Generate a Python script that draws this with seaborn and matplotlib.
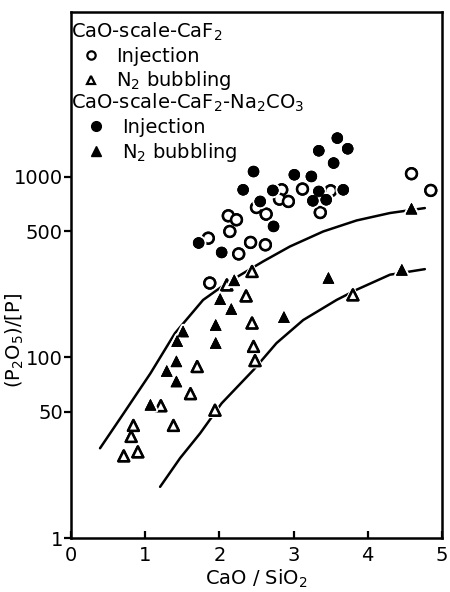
import matplotlib
matplotlib.use("Agg")
import matplotlib.pyplot as plt
import matplotlib.patheffects as pe
from matplotlib.lines import Line2D
import seaborn as sns

# ---- data ----
inj_caf2_x = [1.85, 2.14, 2.12, 2.23, 2.50, 2.63, 2.84, 2.81, 2.93, 3.12, 2.42, 2.62, 2.26, 3.36, 3.50, 4.59, 4.85, 1.87]
inj_caf2_y = [457, 498, 608, 578, 676, 621, 847, 752, 730, 855, 433, 420, 374, 634, 836, 1040, 840, 258]

bub_caf2_x = [2.44, 2.10, 2.36, 2.44, 2.46, 2.48, 1.70, 1.61, 1.21, 1.94, 1.38, 0.84, 0.81, 0.90, 0.71, 3.80]
bub_caf2_y = [299, 252, 219, 155, 115, 96, 89, 63, 54, 51, 42, 42, 36.5, 30, 28.5, 222]

inj_na_x = [3.59, 3.34, 3.73, 3.54, 3.24, 3.34, 3.67, 3.26, 3.44, 3.01, 2.46, 2.32, 2.72, 2.55, 2.73, 1.72, 2.03]
inj_na_y = [1637, 1393, 1429, 1191, 1004, 829, 847, 736, 746, 1026, 1069, 847, 840, 730, 531, 430, 381]

bub_na_x = [2.20, 2.01, 2.16, 1.95, 1.95, 1.51, 1.43, 1.42, 1.29, 1.42, 1.07, 2.87, 3.47, 4.46, 4.59]
bub_na_y = [267, 210, 185, 151, 120, 139, 123, 95, 84, 73.5, 54.6, 167, 275, 305, 665]

upper_curve_x = [0.39, 0.71, 1.07, 1.40, 1.78, 2.10, 2.59, 2.95, 3.40, 3.85, 4.30, 4.77]
upper_curve_y = [31.4, 49.1, 81.6, 136, 208, 258, 340, 411, 498, 573, 630, 671]

lower_curve_x = [1.20, 1.47, 1.74, 2.03, 2.46, 2.77, 3.13, 3.58, 3.85, 4.30, 4.77]
lower_curve_y = [19.2, 27.7, 38.0, 55.7, 85.3, 120, 161, 208, 237, 287, 308]

y_ticks = [10, 50, 100, 500, 1000]
y_tick_labels = ["1", "50", "100", "500", "1000"]
x_ticks = [0, 1, 2, 3, 4, 5]

heading1 = "CaO-scale-CaF$_2$"
heading2 = "CaO-scale-CaF$_2$-Na$_2$CO$_3$"
lab_inj = "Injection"
lab_bub = "N$_2$ bubbling"

# ---- figure ----
sns.set_style("ticks")
plt.rcParams["font.family"] = ["DejaVu Sans"]
plt.rcParams["mathtext.fontset"] = "dejavusans"
plt.rcParams["text.color"] = "black"
plt.rcParams["axes.labelcolor"] = "black"
plt.rcParams["xtick.color"] = "black"
plt.rcParams["ytick.color"] = "black"

fig = plt.figure(figsize=(4.5, 5.92), dpi=100)
ax = fig.add_axes([0.158, 0.0912, 0.824, 0.889])

lw = 1.8
sns.lineplot(x=upper_curve_x, y=upper_curve_y, ax=ax, color="black", lw=lw, sort=False, zorder=1)
sns.lineplot(x=lower_curve_x, y=lower_curve_y, ax=ax, color="black", lw=lw, sort=False, zorder=1)

halo = [pe.withStroke(linewidth=3.5, foreground="white")]
ms = 60
sns.scatterplot(x=inj_caf2_x, y=inj_caf2_y, ax=ax, marker="o", s=ms,
                facecolor="white", edgecolor="black", linewidth=1.8, zorder=3)
sns.scatterplot(x=inj_na_x, y=inj_na_y, ax=ax, marker="o", s=ms,
                color="black", edgecolor="black", linewidth=0.5, zorder=3)
sns.scatterplot(x=bub_caf2_x, y=bub_caf2_y, ax=ax, marker="^", s=ms,
                facecolor="white", edgecolor="black", linewidth=1.8, zorder=3)
sns.scatterplot(x=bub_na_x, y=bub_na_y, ax=ax, marker="^", s=ms,
                color="black", edgecolor="black", linewidth=0.5, zorder=3)
for coll in ax.collections:
    coll.set_path_effects(halo + [pe.Normal()])

ax.set_yscale("log")
ax.set_xlim(0, 5)
ax.set_ylim(10, 8200)
ax.set_yticks(y_ticks)
ax.set_yticklabels(y_tick_labels)
ax.yaxis.set_minor_locator(matplotlib.ticker.NullLocator())
ax.set_xticks(x_ticks)

for sp in ax.spines.values():
    sp.set_linewidth(1.8)
    sp.set_color("black")
    sp.set_visible(True)

ax.tick_params(axis="y", direction="out", length=5, width=1.6, labelsize=14, pad=1,
               colors="black", labelcolor="black")
ax.tick_params(axis="x", direction="in", length=5, width=1.6, labelsize=14, pad=6,
               colors="black", labelcolor="black")

ax.set_xlabel("CaO / SiO$_2$", fontsize=14, labelpad=2, color="black")
ax.set_ylabel("(P$_2$O$_5$)/[P]", fontsize=14, color="black")
ax.yaxis.set_label_coords(-0.122, 0.375)

# legends
h_inj_o = Line2D([], [], marker="o", ls="none", mfc="white", mec="black", mew=1.6, ms=6)
h_bub_o = Line2D([], [], marker="^", ls="none", mfc="white", mec="black", mew=1.6, ms=6)
h_inj_f = Line2D([], [], marker="o", ls="none", mfc="black", mec="black", ms=7)
h_bub_f = Line2D([], [], marker="^", ls="none", mfc="black", mec="black", ms=7)

leg1 = ax.legend([h_inj_o, h_bub_o], [lab_inj, lab_bub], title=heading1,
                 loc="upper left", bbox_to_anchor=(-0.01, 0.991), frameon=False,
                 fontsize=14, title_fontsize=14, alignment="left", labelcolor="black",
                 handlelength=2.0, handletextpad=0.3, labelspacing=0.2,
                 borderpad=0.2, borderaxespad=0.0)
leg1.get_title().set_color("black")
ax.add_artist(leg1)
leg2 = ax.legend([h_inj_f, h_bub_f], [lab_inj, lab_bub], title=heading2,
                 loc="upper left", bbox_to_anchor=(-0.01, 0.855), frameon=False,
                 fontsize=14, title_fontsize=14, alignment="left", labelcolor="black",
                 handlelength=2.5, handletextpad=0.1, labelspacing=0.2,
                 borderpad=0.2, borderaxespad=0.0)
leg2.get_title().set_color("black")

fig.savefig("out.png", dpi=100)
